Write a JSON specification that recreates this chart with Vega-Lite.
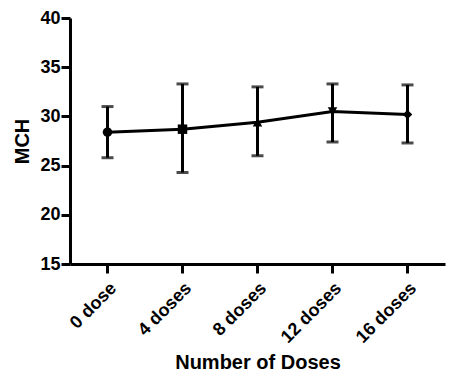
{
  "$schema": "https://vega.github.io/schema/vega-lite/v6.json",
  "width": 375,
  "height": 246,
  "autosize": {"type": "none"},
  "padding": {"left": 70, "top": 18, "right": 10, "bottom": 112},
  "background": "white",
  "config": {
    "view": {"stroke": null},
    "font": "Liberation Sans",
    "axis": {
      "domainColor": "black",
      "domainWidth": 3,
      "tickColor": "black",
      "tickWidth": 3,
      "tickSize": 9,
      "grid": false,
      "labelFont": "Liberation Sans",
      "labelFontWeight": "bold",
      "labelFontSize": 18,
      "labelColor": "black",
      "titleFont": "Liberation Sans",
      "titleFontWeight": "bold",
      "titleFontSize": 20,
      "titleColor": "black"
    }
  },
  "data": {
    "values": [
      {"dose": "0 dose", "mean": 28.4, "lo": 25.8, "hi": 31.0},
      {"dose": "4 doses", "mean": 28.7, "lo": 24.3, "hi": 33.3},
      {"dose": "8 doses", "mean": 29.4, "lo": 26.0, "hi": 33.0},
      {"dose": "12 doses", "mean": 30.5, "lo": 27.4, "hi": 33.3},
      {"dose": "16 doses", "mean": 30.2, "lo": 27.3, "hi": 33.2}
    ]
  },
  "encoding": {
    "x": {
      "field": "dose",
      "type": "nominal",
      "sort": null,
      "scale": {"type": "band", "paddingInner": 0, "paddingOuter": 0},
      "axis": {
        "title": "Number of Doses",
        "labelAngle": -45,
        "labelPadding": 6,
        "titlePadding": 6,
        "offset": 0
      }
    }
  },
  "layer": [
    {
      "mark": {"type": "rule", "strokeWidth": 3, "color": "black"},
      "encoding": {
        "y": {"field": "lo", "type": "quantitative", "scale": {"domain": [15, 40], "nice": false, "zero": false},
          "axis": {"title": "MCH", "values": [15, 20, 25, 30, 35, 40], "labelPadding": 1, "titlePadding": 7}},
        "y2": {"field": "hi"}
      }
    },
    {
      "mark": {"type": "tick", "thickness": 3, "size": 12, "color": "black"},
      "encoding": {"y": {"field": "lo", "type": "quantitative"}}
    },
    {
      "mark": {"type": "tick", "thickness": 3, "size": 12, "color": "black"},
      "encoding": {"y": {"field": "hi", "type": "quantitative"}}
    },
    {
      "mark": {"type": "line", "strokeWidth": 3, "color": "black"},
      "encoding": {"y": {"field": "mean", "type": "quantitative"}}
    },
    {
      "mark": {"type": "point", "filled": true, "opacity": 1, "color": "black", "size": 90},
      "encoding": {
        "y": {"field": "mean", "type": "quantitative"},
        "shape": {
          "field": "dose",
          "type": "nominal",
          "sort": null,
          "scale": {"range": ["circle", "square", "triangle-up", "triangle-down", "diamond"]},
          "legend": null
        }
      }
    }
  ]
}
